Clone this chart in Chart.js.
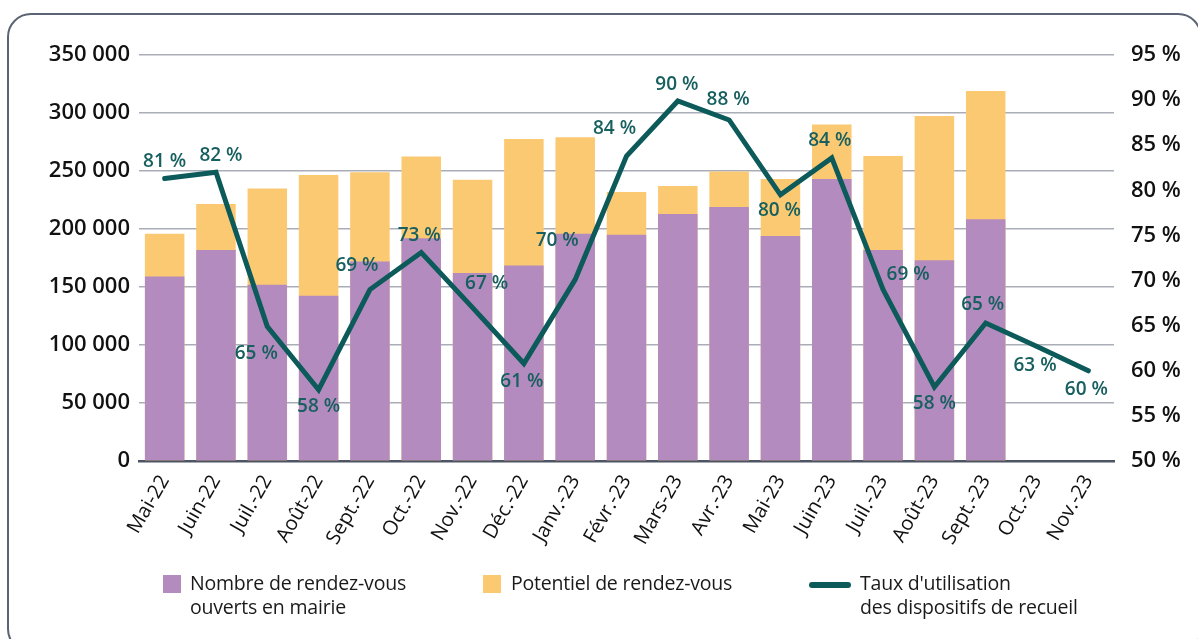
<!DOCTYPE html>
<html lang="fr">
<head>
<meta charset="utf-8">
<script src="https://cdn.jsdelivr.net/npm/chart.js@4/dist/chart.umd.min.js"></script>
<style>
  body { margin: 0; background: #fff; }
  #wrap { position: relative; width: 1198px; height: 639px; overflow: hidden; font-family: "Open Sans", sans-serif; }
  #frame { position: absolute; left: 7px; top: 13px; width: 1195px; height: 640px; border: 2px solid #5c6372; border-radius: 24px; box-sizing: border-box; }
  canvas { position: absolute; left: 0; top: 0; }
  .sw { position: absolute; width: 18px; height: 18px; }
  .lg { position: absolute; font-size: 19.5px; line-height: 24px; color: #1a1a1a; letter-spacing: -0.2px; }
</style>
</head>
<body>
<div id="wrap">
  <div id="frame"></div>
  <canvas id="myChart" width="1198" height="639"></canvas>
  <div class="sw" style="left:163px;top:575px;background:#b38bbe"></div>
  <div class="lg" style="left:190px;top:571px">Nombre de rendez-vous<br>ouverts en mairie</div>
  <div class="sw" style="left:483px;top:575px;background:#fcc973"></div>
  <div class="lg" style="left:511px;top:571px">Potentiel de rendez-vous</div>
  <div style="position:absolute;left:809px;top:582px;width:42px;height:6px;border-radius:3px;background:#0c5a59"></div>
  <div class="lg" style="left:860px;top:571px">Taux d'utilisation<br>des dispositifs de recueil</div>
</div>
<script>
// months shown on the x axis
const months = ['Mai-22', 'Juin-22', 'Juil.-22', 'Août-22', 'Sept.-22', 'Oct.-22', 'Nov.-22', 'Déc.-22',
  'Janv.-23', 'Févr.-23', 'Mars-23', 'Avr.-23', 'Mai-23', 'Juin-23', 'Juil.-23', 'Août-23', 'Sept.-23', 'Oct.-23', 'Nov.-23'];

// rendez-vous ouverts en mairie (purple)
const ouverts = [159000, 182000, 152000, 142500, 172000, 192000, 162000, 168500, 196000, 195000,
  213000, 219000, 194000, 243000, 182000, 173000, 208500, null, null];

// potentiel de rendez-vous (orange, full bar height)
const potentiel = [196000, 221500, 235000, 246500, 249000, 262500, 242500, 277500, 279000, 232000,
  237000, 249500, 243000, 290000, 263000, 297500, 319000, null, null];

// taux d'utilisation (%)
const taux = [81.3, 82, 64.9, 57.9, 69, 73.1, 67, 60.8, 70.1, 83.8, 89.9, 87.8, 79.5, 83.6, 69, 58.2, 65.3, 62.7, 60];

// tick values
const leftTicks = [0, 50000, 100000, 150000, 200000, 250000, 300000, 350000];
const rightTicks = [50, 55, 60, 65, 70, 75, 80, 85, 90, 95];

// where each % label sits relative to its point (dx, dy in px)
const labelOffsets = [[0, -17], [5, -17], [-11, 27], [0, 17], [-13, -24], [-2, -17], [14, -24], [-2, 18],
  [-18, -39], [-12, -27], [-1, -16], [-1, -20], [-1, 16], [-2, -17], [25, -15], [0, 17], [-3, -18], [-2, 19], [-2, 19]];

const teal = '#0c5a59';
const tickFont = { family: 'Open Sans', size: 22, weight: '600' };

function fmtThousands(v) {
  return String(v).replace(/\B(?=(\d{3})+(?!\d))/g, ' ');
}

const pctLabels = {
  id: 'pctLabels',
  afterDatasetsDraw(chart) {
    const meta = chart.getDatasetMeta(2);
    const ctx = chart.ctx;
    ctx.save();
    ctx.font = '600 19px "Open Sans"';
    ctx.fillStyle = '#17605f';
    ctx.textAlign = 'center';
    ctx.textBaseline = 'middle';
    meta.data.forEach((pt, i) => {
      const off = labelOffsets[i];
      ctx.fillText(Math.round(taux[i]) + ' %', pt.x + off[0], pt.y + off[1]);
    });
    ctx.restore();
  }
};

new Chart('myChart', {
  type: 'bar',
  data: {
    labels: months,
    datasets: [
      {
        label: 'Nombre de rendez-vous ouverts en mairie',
        data: ouverts,
        backgroundColor: '#b38bbe',
        grouped: false,
        barPercentage: 0.77,
        categoryPercentage: 1,
        order: 1,
        yAxisID: 'y'
      },
      {
        label: 'Potentiel de rendez-vous',
        data: potentiel,
        backgroundColor: '#fcc973',
        grouped: false,
        barPercentage: 0.77,
        categoryPercentage: 1,
        order: 2,
        yAxisID: 'y'
      },
      {
        type: 'line',
        label: "Taux d'utilisation des dispositifs de recueil",
        data: taux,
        borderColor: teal,
        borderWidth: 5,
        borderCapStyle: 'round',
        pointRadius: 0,
        tension: 0,
        order: 0,
        yAxisID: 'y1'
      }
    ]
  },
  options: {
    responsive: false,
    animation: false,
    devicePixelRatio: 1,
    layout: { padding: { top: 55, left: 0, right: 0, bottom: 0 } },
    plugins: { legend: { display: false }, tooltip: { enabled: false } },
    scales: {
      x: {
        grid: { display: false },
        border: { display: true, color: '#4d5464', width: 2.5 },
        ticks: { color: '#111', font: { family: 'Open Sans', size: 20 }, minRotation: 60, maxRotation: 60, padding: 2 },
        afterFit(s) { s.height = 178; }
      },
      y: {
        position: 'left',
        min: 0,
        max: 350000,
        afterBuildTicks(s) { s.ticks = leftTicks.map(v => ({ value: v })); },
        grid: { color: '#a9adb8', lineWidth: 1.5, drawTicks: false },
        border: { display: false },
        ticks: { color: '#111', font: tickFont, padding: 9, callback: v => fmtThousands(v) },
        afterFit(s) { s.width = 139; }
      },
      y1: {
        position: 'right',
        min: 50,
        max: 95,
        afterBuildTicks(s) { s.ticks = rightTicks.map(v => ({ value: v })); },
        grid: { display: false },
        border: { display: false },
        ticks: { color: '#111', font: tickFont, padding: 9, callback: v => v + ' %' },
        afterFit(s) { s.width = 84; }
      }
    }
  },
  plugins: [pctLabels]
});
</script>
</body>
</html>
